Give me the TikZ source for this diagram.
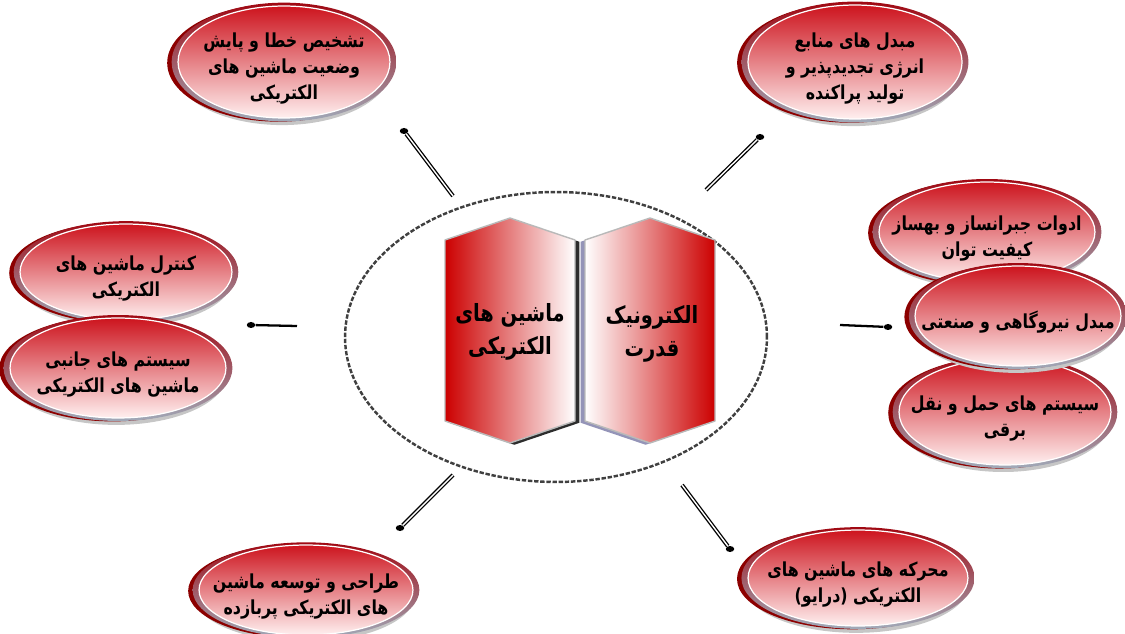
\documentclass[tikz,border=0pt]{standalone}
\usepackage{fontspec}
\newfontfamily\arabicfont[Script=Arabic, FakeStretch=0.82]{DejaVu Sans}
\TeXXeTstate=1
\usepackage{tikz}
\usetikzlibrary{shapes.geometric, shadows}
\newcommand\fatext[1]{\beginR#1\endR}
\definecolor{topicred}{RGB}{205,20,30}
\definecolor{rimred}{RGB}{160,8,18}
\definecolor{rimgray}{RGB}{160,170,185}
\pgfdeclareradialshading{hubglow}{\pgfpoint{0bp}{0bp}}{color(0bp)=(white); color(36bp)=(white); color(50bp)=(gray!35)}
\tikzset{
  topic/.style 2 args={ellipse, minimum width=#1*0.04cm, minimum height=#2*0.04cm,
                       inner sep=0pt,
                       general shadow={shadow xshift=-1pt, shadow yshift=-3pt,
                                       shadow scale=1.03, fill=gray!45},
                       general shadow={shadow xshift=-3pt, shadow yshift=-0.5pt,
                                       shadow scale=1.05, fill=red!55!black},
                       general shadow={shadow scale=1.06, top color=rimred,
                                       bottom color=rimgray},
                       top color=topicred, bottom color=red!6,
                       draw=white, line width=0.7pt},
  topictext/.style={align=center, inner sep=0pt, yshift=-0.13cm,
                    font=\arabicfont\bfseries\fontsize{11}{15}\selectfont},
  hub/.style={ellipse, shade, shading=hubglow, draw=gray!50!black, line width=1.4pt,
              dash pattern=on 2.5pt off 1pt, minimum width=8.44cm,
              minimum height=5.8cm},
  lpanel/.style={left color=red!80!black, right color=white, draw=gray!55,
                 line width=0.8pt, line join=round,
                 general shadow={shadow xshift=2.5pt, shadow yshift=-1pt,
                                 fill=gray!35!black}},
  rpanel/.style={left color=white, right color=red!80!black, draw=gray!55,
                 line width=0.8pt, line join=round,
                 general shadow={shadow xshift=-2.5pt, shadow yshift=-1pt,
                                 fill=blue!20!gray!70}},
  paneltext/.style={align=center, font=\arabicfont\bfseries\fontsize{13.5}{19}\selectfont},
  spoke/.style={draw=black, double=white, double distance=0.8pt, line width=0.75pt},
  stub/.style={draw=black, line width=1.3pt},
  dot/.style={ellipse, fill=black, inner sep=0pt, minimum width=0.17cm,
              minimum height=0.12cm},
}

\begin{document}
\begin{tikzpicture}[x=0.02cm, y=-0.02cm]
  \useasboundingbox (0,0) rectangle (1125,634);

  % centre
  \node[hub] (hub) at (556,337) {};
  \path[lpanel] (445,240) -- (510,218) -- (575,240) -- (575,421) -- (510,443)
    -- (445,421) -- cycle;
  \path[rpanel] (585,240) -- (650,218) -- (715,240) -- (715,421) -- (650,443)
    -- (585,421) -- cycle;
  \node[paneltext] (machines) at (510,332) {\fatext{ماشین های}\\\fatext{الکتریکی}};
  \node[paneltext] (power) at (652,334) {\fatext{الکترونیک}\\\fatext{قدرت}};

  % topics
  \node[topic={106}{56}] (diagnosis) at (284,62) {};
  \node[topictext] (diagnosis-text) at (diagnosis)
    {\fatext{تشخیص خطا و پایش}\\\fatext{وضعیت ماشین های}\\\fatext{الکتریکی}};
  \node[topic={107}{57}] (renewable) at (855,62) {};
  \node[topictext] (renewable-text) at (renewable)
    {\fatext{مبدل های منابع}\\\fatext{انرژی تجدیدپذیر و}\\\fatext{تولید پراکنده}};
  \node[topic={108}{50}] (quality) at (987,232) {};
  \node[topictext] (quality-text) at (quality)
    {\fatext{ادوات جبرانساز و بهساز}\\\fatext{کیفیت توان}};
  \node[topic={106}{53}] (traction) at (1005,412) {};
  \node[topictext] (traction-text) at (traction)
    {\fatext{سیستم های حمل و نقل}\\\fatext{برقی}};
  \node[topic={103}{50}] (plant) at (1018,316) {};
  \node[topictext] (plant-text) at (plant) {\fatext{مبدل نیروگاهی و صنعتی}};
  \node[topic={106}{48}] (control) at (126,272) {};
  \node[topictext] (control-text) at (control)
    {\fatext{کنترل ماشین های}\\\fatext{الکتریکی}};
  \node[topic={108}{50}] (auxiliary) at (118,368) {};
  \node[topictext] (auxiliary-text) at (auxiliary)
    {\fatext{سیستم های جانبی}\\\fatext{ماشین های الکتریکی}};
  \node[topic={107}{45}] (design) at (306,590) {};
  \node[topictext] (design-text) at (design)
    {\fatext{طراحی و توسعه ماشین}\\\fatext{های الکتریکی پربازده}};
  \node[topic={110}{48}] (drive) at (858,578) {};
  \node[topictext] (drive-text) at (drive)
    {\fatext{محرکه های ماشین های}\\\fatext{الکتریکی (درایو)}};

  % spokes
  \coordinate (from-tl) at (453,196);
  \coordinate (from-tr) at (706,190);
  \coordinate (from-l) at (297,326);
  \coordinate (from-r) at (840,325);
  \coordinate (from-bl) at (453,475);
  \coordinate (from-br) at (682,485);
  \node[dot] (tip-tl) at (404,131) {};
  \node[dot] (tip-tr) at (760,137) {};
  \node[dot] (tip-l) at (251,325) {};
  \node[dot] (tip-r) at (888,327) {};
  \node[dot] (tip-bl) at (400,528) {};
  \node[dot] (tip-br) at (730,549) {};
  \draw[spoke] (from-tl) -- (tip-tl);
  \draw[spoke] (from-tr) -- (tip-tr);
  \draw[stub] (from-l) -- (tip-l);
  \draw[stub] (from-r) -- (tip-r);
  \draw[spoke] (from-bl) -- (tip-bl);
  \draw[spoke] (from-br) -- (tip-br);
\end{tikzpicture}
\end{document}
